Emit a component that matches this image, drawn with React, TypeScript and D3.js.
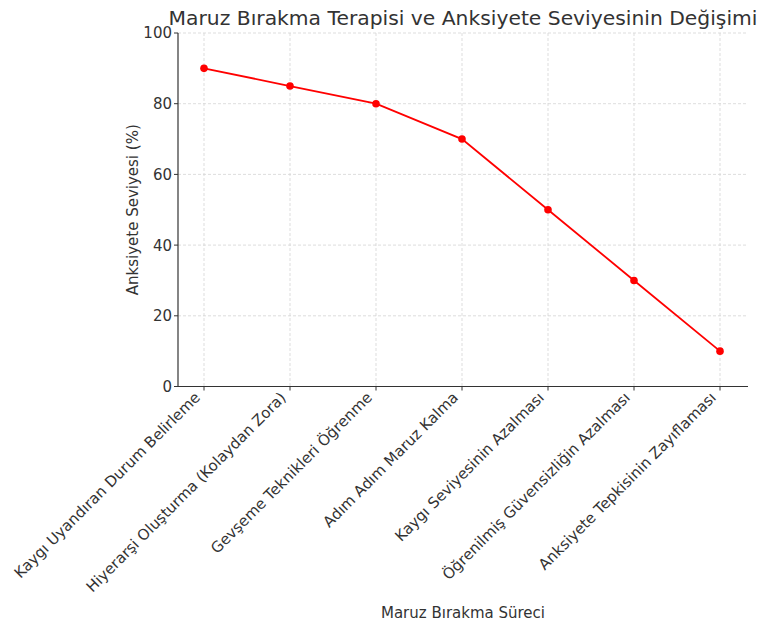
import React from "react";
import * as d3 from "d3";

const categories = [
  "Kaygı Uyandıran Durum Belirleme",
  "Hiyerarşi Oluşturma (Kolaydan Zora)",
  "Gevşeme Teknikleri Öğrenme",
  "Adım Adım Maruz Kalma",
  "Kaygı Seviyesinin Azalması",
  "Öğrenilmiş Güvensizliğin Azalması",
  "Anksiyete Tepkisinin Zayıflaması",
];
const anxiety = [90, 85, 80, 70, 50, 30, 10];
const yTicks = [0, 20, 40, 60, 80, 100];

const W = 768, H = 629;
const left = 178, right = 748, top = 33, bottom = 386.5;
const font = "DejaVu Sans, sans-serif";
const fs = 15;

export default function App() {
  const x = d3.scalePoint<string>().domain(categories).range([204, 720]);
  const y = d3.scaleLinear().domain([0, 100]).range([bottom, top]);
  const line = d3.line<number>().x((_, i) => x(categories[i])!).y((d) => y(d));
  return (
    <svg width={W} height={H} style={{ position: "absolute", left: 0, top: 0 }} fontFamily={font}>
      <rect width={W} height={H} fill="#fff" />
      {yTicks.map((t) => (
        <line key={"gy" + t} x1={left} x2={right} y1={y(t)} y2={y(t)} stroke="#d4d4d4" strokeWidth={0.8} strokeDasharray="3,2" />
      ))}
      {categories.map((c) => (
        <line key={"gx" + c} x1={x(c)} x2={x(c)} y1={top} y2={bottom} stroke="#d4d4d4" strokeWidth={0.8} strokeDasharray="3,2" />
      ))}
      <line x1={left} x2={left} y1={top} y2={bottom} stroke="#333" strokeWidth={1.2} />
      <line x1={left} x2={right} y1={bottom} y2={bottom} stroke="#333" strokeWidth={1.2} />
      {yTicks.map((t) => (
        <g key={"yt" + t}>
          <line x1={left - 4} x2={left} y1={y(t)} y2={y(t)} stroke="#333" strokeWidth={1} />
          <text x={left - 6} y={y(t)} dy="0.36em" textAnchor="end" fontSize={fs} fill="#333">{t}</text>
        </g>
      ))}
      {categories.map((c) => (
        <g key={"xt" + c}>
          <line x1={x(c)} x2={x(c)} y1={bottom} y2={bottom + 4} stroke="#333" strokeWidth={1} />
          <text transform={`translate(${x(c)! - 3},${bottom + 12}) rotate(-45)`} textAnchor="end" fontSize={fs} fill="#333">{c}</text>
        </g>
      ))}
      <path d={line(anxiety)!} fill="none" stroke="#ff0000" strokeWidth={1.8} />
      {anxiety.map((v, i) => (
        <circle key={"p" + i} cx={x(categories[i])} cy={y(v)} r={3.8} fill="#ff0000" />
      ))}
      <text x={(left + right) / 2} y={25} textAnchor="middle" fontSize={20.3} fill="#333">Maruz Bırakma Terapisi ve Anksiyete Seviyesinin Değişimi</text>
      <text transform={`translate(138,${(top + bottom) / 2}) rotate(-90)`} textAnchor="middle" fontSize={fs} fill="#333">Anksiyete Seviyesi (%)</text>
      <text x={(left + right) / 2} y={618} textAnchor="middle" fontSize={fs} fill="#333">Maruz Bırakma Süreci</text>
    </svg>
  );
}
